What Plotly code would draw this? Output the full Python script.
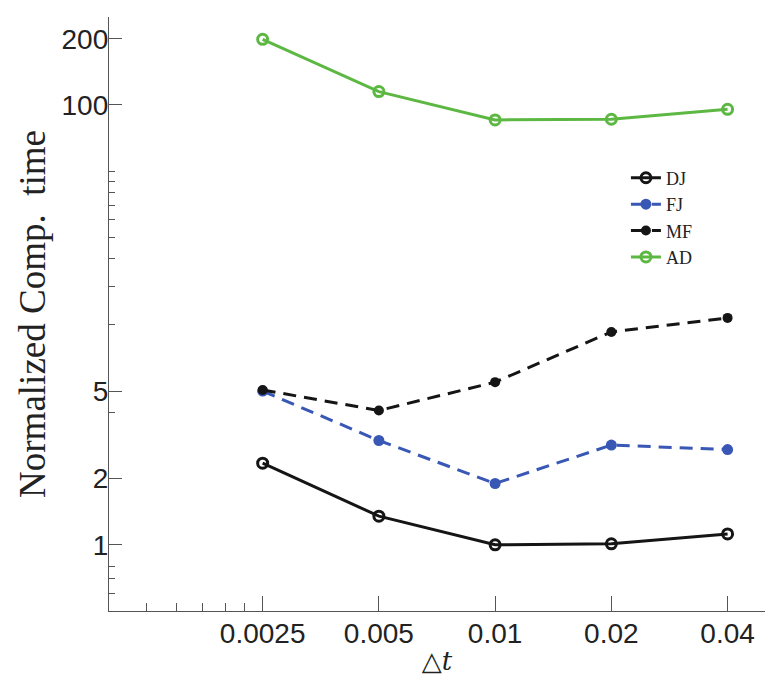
import plotly.graph_objects as go

dt = [0.0025, 0.005, 0.01, 0.02, 0.04]
dt_labels = ["0.0025", "0.005", "0.01", "0.02", "0.04"]

dj = [2.35, 1.35, 1.00, 1.01, 1.12]
fj = [5.00, 2.98, 1.90, 2.84, 2.71]
mf = [5.06, 4.08, 5.49, 9.29, 10.76]
ad = [198.9, 115.0, 85.5, 86.1, 95.5]

y_ticks = [1, 2, 5, 100, 200]
y_tick_labels = ["1", "2", "5", "100", "200"]
y_minor = [0.6, 0.7, 0.8, 4, 10, 15, 20, 25, 30, 35, 40, 45, 50]
x_minor = [0.00125, 0.0015, 0.00175, 0.002, 0.00225]

BLACK = "#151515"
BLUE = "#3957b5"
GREEN = "#5db843"
AXIS = "#555555"

fig = go.Figure()
fig.add_trace(go.Scatter(
    x=dt, y=dj, name="DJ", mode="lines+markers",
    line=dict(color=BLACK, width=3),
    marker=dict(symbol="circle-open", size=10, color=BLACK, line=dict(width=3, color=BLACK)),
))
fig.add_trace(go.Scatter(
    x=dt, y=fj, name="FJ", mode="lines+markers",
    line=dict(color=BLUE, width=3, dash="13px,8px"),
    marker=dict(symbol="circle", size=11, color=BLUE),
))
fig.add_trace(go.Scatter(
    x=dt, y=mf, name="MF", mode="lines+markers",
    line=dict(color=BLACK, width=3, dash="13px,8px"),
    marker=dict(symbol="circle", size=10, color=BLACK),
))
fig.add_trace(go.Scatter(
    x=dt, y=ad, name="AD", mode="lines+markers",
    line=dict(color=GREEN, width=3),
    marker=dict(symbol="circle-open", size=10, color=GREEN, line=dict(width=3, color=GREEN)),
))

# page body has an 8px default margin, so the figure is made 8px smaller
fig.update_layout(
    width=774, height=685,
    margin=dict(l=101, r=17, t=9, b=82),
    paper_bgcolor="white", plot_bgcolor="white",
    font=dict(family="Liberation Sans, Arial, sans-serif", size=28, color="#222222"),
    showlegend=True,
    legend=dict(
        x=0.788, y=0.760, xanchor="left", yanchor="top",
        font=dict(family="Liberation Serif, Times New Roman, serif", size=18, color="#222222"),
        bgcolor="rgba(0,0,0,0)", tracegroupgap=0,
    ),
)

fig.update_xaxes(
    type="log", range=[-3, -1.30103], automargin=False,
    tickmode="array", tickvals=dt, ticktext=dt_labels,
    ticks="inside", ticklen=15, tickwidth=1.3, tickcolor=AXIS,
    ticklabelstandoff=-3,
    showline=True, linecolor=AXIS, linewidth=1.3,
    showgrid=False, zeroline=False,
    minor=dict(tickmode="array", tickvals=x_minor, ticks="inside", ticklen=8,
               tickwidth=1.3, tickcolor=AXIS, showgrid=False),
    title=dict(text="△<i>t</i>", standoff=4,
               font=dict(family="DejaVu Serif, Liberation Serif, serif", size=26, color="#222222")),
)
fig.update_yaxes(
    type="log", range=[-0.30103, 2.4], automargin=False,
    tickmode="array", tickvals=y_ticks, ticktext=y_tick_labels,
    ticks="inside", ticklen=13, tickwidth=1.3, tickcolor=AXIS,
    ticklabelstandoff=-6,
    showline=True, linecolor=AXIS, linewidth=1.3,
    showgrid=False, zeroline=False,
    minor=dict(tickmode="array", tickvals=y_minor, ticks="inside", ticklen=6,
               tickwidth=1.3, tickcolor=AXIS, showgrid=False),
    title=dict(text="Normalized Comp.  time", standoff=4,
               font=dict(family="Liberation Serif, Times New Roman, serif", size=37, color="#222222")),
)

fig.write_html("out.html")
